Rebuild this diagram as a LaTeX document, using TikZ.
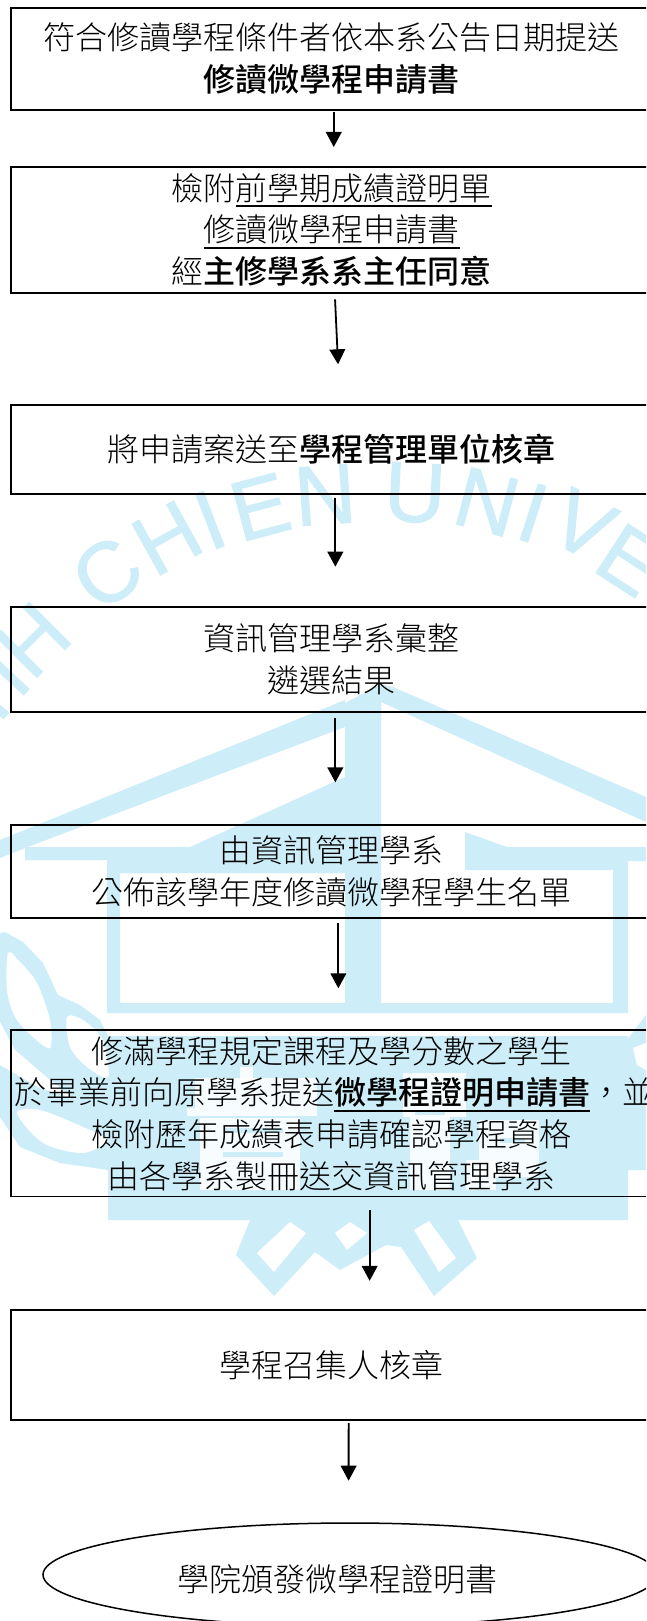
\documentclass[tikz,border=0pt]{standalone}
\usepackage{fontspec}
\usetikzlibrary{arrows.meta,shapes.geometric}
\setmainfont{Liberation Sans}
\newfontfamily\cjk[BoldFont={Noto Sans CJK TC Medium}]{Noto Sans CJK TC Light}
\newfontfamily\wmfont[FakeBold=1.2]{Liberation Sans}
\definecolor{wm}{HTML}{CDEEF9}
\newcommand\ulx[1]{\leavevmode\setbox0=\hbox{#1}\rlap{\rule[-7pt]{\wd0}{1.6pt}}\box0 }
\tikzset{
  flowbox/.style={draw=black,line width=1.8pt,inner sep=0pt,outer sep=0pt,minimum width=642.3pt,text width=642.3pt,align=center,font=\cjk\fontsize{32pt}{41.7pt}\selectfont},
  terminal/.style={draw=black,line width=1.5pt,ellipse,inner sep=0pt,outer sep=0pt,minimum width=614pt,minimum height=103.4pt,font=\cjk\fontsize{32pt}{41.7pt}\selectfont},
  flowarrow/.style={draw=black,line width=1.8pt,-{Triangle[length=15pt,width=15.7pt]}},
  wmletter/.style={text=wm,inner sep=0pt,font=\wmfont\fontsize{85pt}{85pt}\selectfont},
  wmfill/.style={fill=wm,draw=none},
  wmhole/.style={fill=white,draw=none}
}
\begin{document}
\begin{tikzpicture}[x=1pt,y=-1pt]
\useasboundingbox (0,0) rectangle (646,1621);
\clip (0,0) rectangle (646,1621);
\fill[white] (0,0) rectangle (646,1621);
% watermark lettering
\node[wmletter,rotate=50] (w1) at (-29,712) {H};
\node[wmletter,rotate=47] (w2) at (5,672) {I};
\node[wmletter,rotate=45] (w3) at (33,640) {H};
\node[wmletter,rotate=38] (w4) at (107,573) {C};
\node[wmletter,rotate=29] (w5) at (167,538) {H};
\node[wmletter,rotate=21] (w6) at (210,520) {I};
\node[wmletter,rotate=15] (w7) at (260,507) {E};
\node[wmletter,rotate=4] (w8) at (325,495) {N};
\node[wmletter,rotate=-3] (w9) at (415,493) {U};
\node[wmletter,rotate=-15] (w10) at (487,502) {N};
\node[wmletter,rotate=-18] (w11) at (533,513) {I};
\node[wmletter,rotate=-27] (w12) at (583,525) {V};
\node[wmletter,rotate=-33] (w13) at (630,560) {E};
% watermark house
\path[wmfill] (0,840) -- (345,700) -- (345,727) -- (25,848) -- (0,858) -- cycle;
\path[wmfill] (345,703) -- (381,684) -- (393,687) -- (646,797) -- (646,822) -- (381,702) -- (381,1013) -- (345,1013) -- cycle;
\path[wmfill] (25,847) -- (190,847) -- (345,777) -- (345,873) -- (120,873) -- (120,1003) -- (345,1003) -- (345,1013) -- (107,1013) -- (107,860) -- (25,860) -- cycle;
\path[wmfill] (381,1003) -- (613,1003) -- (613,870) -- (465,870) -- (465,832) -- (507,847) -- (646,847) -- (646,861) -- (628,861) -- (628,1013) -- (381,1013) -- cycle;
% watermark panel and feet
\path[wmfill] (108,1036) -- (628,1036) -- (628,1220) -- (458,1220) -- (477,1258) -- (434,1296) -- (401,1247) -- (386,1245) -- (340,1270) -- (315,1252) -- (274,1296) -- (236,1255) -- (250,1220) -- (108,1220) -- cycle;
\path[wmhole] (257,1253) -- (274,1272) -- (306,1233) -- (290,1222) -- cycle;
\path[wmhole] (414,1230) -- (439,1272) -- (456,1258) -- (429,1221) -- cycle;
\path[wmhole] (335,1233) -- (347,1250) -- (367,1233) -- (350,1222) -- cycle;
% watermark right leaf
\path[wmfill] (646,1015) -- (627,1040) -- (628,1170) -- (646,1170) -- cycle;
\path[wmhole] (633,1048) -- (646,1043) -- (646,1070) -- (637,1065) -- cycle;
% watermark left leaves
\path[wmfill] (0,933) -- (5,932) -- (23,942) -- (43,963) -- (58,995) -- (80,1005) -- (100,1020) -- (108,1036) -- (108,1170) -- (60,1163) -- (20,1147) -- (0,1117) -- cycle;
\path[wmhole] plot[smooth cycle,tension=.5] coordinates {(8,953) (20,962) (37,983) (50,1020) (50,1048) (33,1037) (15,1017) (7,990)};
\path[wmhole] plot[smooth cycle,tension=.5] coordinates {(67,1017) (83,1020) (103,1040) (108,1077) (87,1067) (70,1047)};
\path[wmhole] plot[smooth cycle,tension=.5] coordinates {(17,1113) (40,1110) (83,1127) (108,1140) (83,1153) (43,1143)};
\path[wmhole] (0,1022) -- (15,1050) -- (50,1080) -- (72,1098) -- (40,1088) -- (0,1065) -- cycle;
% white strokes in the panel
\begin{scope}[opacity=.85]
\path[wmhole] (240,1067) rectangle (253,1082);
\path[wmhole] (195,1078) rectangle (317,1108);
\path[wmhole] (187,1108) rectangle (317,1116);
\path[wmhole] (200,1118) rectangle (300,1190);
\path[wmhole] (403,1073) rectangle (466,1117);
\path[wmhole] (410,1117) rectangle (450,1190);
\path[wmhole] (479,1120) rectangle (539,1177);
\path[wmhole] (466,1160) rectangle (496,1190);
\end{scope}
\path[wmfill] (223,1152) rectangle (283,1157);
\path[wmfill] (223,1128) rectangle (283,1133);
\path[wmfill] (500,1138) rectangle (525,1143);
\path[wmfill] (415,1110) rectangle (445,1115);
% flow boxes
\node[flowbox,minimum height=101.7pt] (b1) at (331.85,58.85) {符合修讀學程條件者依本系公告日期提送\\\textbf{修讀微學程申請書}};
\node[flowbox,minimum height=126pt] (b2) at (331.85,229.7) {檢附\ulx{前學期成績證明單}\\\ulx{修讀微學程申請書}\\經\textbf{主修學系系主任同意}};
\node[flowbox,minimum height=88.7pt] (b3) at (331.85,449.35) {將申請案送至\textbf{學程管理單位核章}};
\node[flowbox,minimum height=105.3pt] (b4) at (331.85,659.25) {資訊管理學系彙整\\遴選結果};
\node[flowbox,minimum height=92.6pt] (b5) at (331.85,871.5) {由資訊管理學系\\公佈該學年度修讀微學程學生名單};
\node[flowbox,minimum height=166.2pt] (b6) at (331.85,1113.4) {修滿學程規定課程及學分數之學生\\\leavevmode\hbox to 642.3pt{\hspace{3.7pt}於畢業前向原學系提送\ulx{\textbf{微學程證明申請書}}，並\hss}\\檢附歷年成績表申請確認學程資格\\由各學系製冊送交資訊管理學系};
\node[flowbox,minimum height=110pt] (b7) at (331.85,1365) {學程召集人核章};
\node[terminal] (b8) at (350,1574.7) {\raisebox{-17pt}[0pt][0pt]{\hspace*{-25pt}學院頒發微學程證明書}};
% connectors
\draw[flowarrow] ([xshift=1.9pt,yshift=-2.3pt]b1.south) -- ([xshift=1.9pt,yshift=19.7pt]b2.north);
\draw[flowarrow] ([xshift=3.2pt,yshift=-6.6pt]b2.south) -- ([xshift=6.2pt,yshift=40.7pt]b3.north);
\draw[flowarrow] ([xshift=3.5pt,yshift=-4.6pt]b3.south) -- ([xshift=3.5pt,yshift=39.9pt]b4.north);
\draw[flowarrow] ([xshift=3.5pt,yshift=-6.3pt]b4.south) -- ([xshift=3.5pt,yshift=42.8pt]b5.north);
\draw[flowarrow] ([xshift=6.5pt,yshift=-5.6pt]b5.south) -- ([xshift=6.5pt,yshift=42pt]b6.north);
\draw[flowarrow] ([xshift=37.8pt,yshift=-13.3pt]b6.south) -- ([xshift=37.8pt,yshift=29.2pt]b7.north);
\draw[flowarrow] ([xshift=16.8pt,yshift=-3pt]b7.south) -- ([xshift=-1.4pt,yshift=42.3pt]b8.north);
\end{tikzpicture}
\end{document}
